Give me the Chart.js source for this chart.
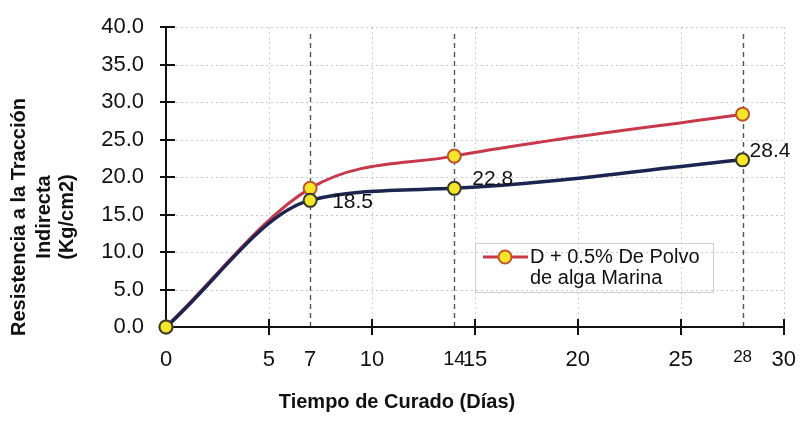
<!DOCTYPE html>
<html>
<head>
<meta charset="utf-8">
<script src="https://cdn.jsdelivr.net/npm/chart.js@4.4.1/dist/chart.umd.min.js"></script>
<style>
  html, body { margin: 0; padding: 0; background: #fff; }
  #wrap { width: 808px; height: 423px; }
</style>
</head>
<body>
<div id="wrap"><canvas id="chart" width="808" height="423"></canvas></div>
<script>
// Curing age (days) and indirect tensile strength (kg/cm2)
const curingDays = [0, 7, 14, 28];
const strengthAlga = [0, 18.5, 22.8, 28.4];   // D + 0.5% seaweed powder
const strengthBase = [0, 16.9, 18.5, 22.3];   // reference mix D

const xTickValues = [0, 5, 7, 10, 14, 15, 20, 25, 28, 30];
const yTickValues = [0, 5, 10, 15, 20, 25, 30, 35, 40];
const markedDays = [7, 14, 28];

const legendLines = ['D + 0.5% De Polvo', 'de alga Marina'];
const yTitleLines = ['Resistencia a la Tracción', 'Indirecta', '(Kg/cm2)'];
const xTitle = 'Tiempo de Curado (Días)';

const FONT = '"Liberation Sans", Arial, sans-serif';
const RED = '#c7384b';
const NAVY = '#1c2450';
const YELLOW = '#f4e629';

const toPoints = ys => curingDays.map((d, i) => ({ x: d, y: ys[i] }));

function line(ctx, x1, y1, x2, y2) {
  ctx.beginPath(); ctx.moveTo(x1, y1); ctx.lineTo(x2, y2); ctx.stroke();
}

function marker(ctx, x, y, border) {
  ctx.beginPath();
  ctx.arc(x, y, 6.5, 0, Math.PI * 2);
  ctx.fillStyle = YELLOW; ctx.fill();
  ctx.lineWidth = 2; ctx.strokeStyle = border; ctx.stroke();
}

const framePlugin = {
  id: 'frame',
  beforeDatasetsDraw(chart) {
    const { ctx, chartArea: a, scales: { x, y } } = chart;
    ctx.save();
    // faint dotted grid
    ctx.strokeStyle = 'rgba(140,140,140,0.45)';
    ctx.lineWidth = 1;
    ctx.setLineDash([2, 3]);
    yTickValues.filter(v => v > 0).forEach(v => {
      const py = Math.round(y.getPixelForValue(v)) + 0.5;
      line(ctx, a.left, py, a.right, py);
    });
    for (let v = 5; v <= 30; v += 5) {
      const px = Math.round(x.getPixelForValue(v)) + 0.5;
      line(ctx, px, a.top, px, a.bottom);
    }
    // dashed guides at the test ages
    ctx.strokeStyle = '#555';
    ctx.lineWidth = 1.4;
    ctx.setLineDash([5, 4]);
    markedDays.forEach(d => {
      const px = Math.round(x.getPixelForValue(d)) + 0.5;
      line(ctx, px, a.bottom, px, a.top + 6);
    });
    // axes and crossing tick marks
    ctx.setLineDash([]);
    ctx.strokeStyle = '#111';
    ctx.lineWidth = 2;
    line(ctx, a.left, a.top, a.left, a.bottom);
    line(ctx, a.left, a.bottom, a.right, a.bottom);
    yTickValues.filter(v => v > 0).forEach(v => {
      const py = Math.round(y.getPixelForValue(v));
      line(ctx, a.left - 6, py, a.left + 9, py);
    });
    for (let v = 5; v <= 30; v += 5) {
      const px = Math.round(x.getPixelForValue(v));
      line(ctx, px, a.bottom - 8, px, a.bottom + 8);
    }
    ctx.restore();
  },
  afterDatasetsDraw(chart) {
    const { ctx } = chart;
    ctx.save();
    // value labels beside the points
    const basePts = chart.getDatasetMeta(0).data;
    const offsets = [null, [22, 2], [18, -9], [7, -9]];
    ctx.font = '21px ' + FONT;
    ctx.fillStyle = '#111';
    ctx.textAlign = 'left';
    ctx.textBaseline = 'middle';
    for (let i = 1; i < strengthAlga.length; i++) {
      const p = basePts[i];
      ctx.fillText(strengthAlga[i].toFixed(1), p.x + offsets[i][0], p.y + offsets[i][1]);
    }
    // legend
    ctx.strokeStyle = '#cfcfcf';
    ctx.lineWidth = 1;
    ctx.strokeRect(475.5, 243.5, 238, 49);
    ctx.strokeStyle = RED;
    ctx.lineWidth = 3;
    line(ctx, 483, 257, 528, 257);
    marker(ctx, 505, 257, '#c0552d');
    ctx.font = '20px ' + FONT;
    ctx.fillStyle = '#111';
    ctx.fillText(legendLines[0], 530, 257);
    ctx.fillText(legendLines[1], 530, 278);
    // axis titles
    ctx.font = 'bold 20px ' + FONT;
    ctx.textAlign = 'center';
    ctx.fillText(xTitle, 397, 402);
    const titleX = [19, 44, 67];
    yTitleLines.forEach((t, i) => {
      ctx.save();
      ctx.translate(titleX[i], 217);
      ctx.rotate(-Math.PI / 2);
      ctx.fillText(t, 0, 0);
      ctx.restore();
    });
    ctx.restore();
  }
};

new Chart(document.getElementById('chart'), {
  type: 'line',
  data: {
    datasets: [
      {
        label: 'D',
        data: toPoints(strengthBase),
        borderColor: NAVY,
        borderWidth: 3.5,
        cubicInterpolationMode: 'monotone',
        clip: false,
        pointRadius: 6.5,
        pointBackgroundColor: YELLOW,
        pointBorderColor: '#3a3a2a',
        pointBorderWidth: 2
      },
      {
        label: legendLines.join(' '),
        data: toPoints(strengthAlga),
        borderColor: RED,
        borderWidth: 3,
        cubicInterpolationMode: 'monotone',
        clip: false,
        pointRadius: 6.5,
        pointBackgroundColor: YELLOW,
        pointBorderColor: '#c0552d',
        pointBorderWidth: 2
      }
    ]
  },
  options: {
    responsive: false,
    animation: false,
    devicePixelRatio: 1,
    layout: { padding: { top: 22, right: 22, left: 0, bottom: 0 } },
    plugins: { legend: { display: false }, tooltip: { enabled: false } },
    scales: {
      x: {
        type: 'linear',
        min: 0,
        max: 30,
        afterBuildTicks: s => { s.ticks = xTickValues.map(v => ({ value: v })); },
        afterFit: s => { s.height = 96; },
        grid: { display: false },
        border: { display: false },
        ticks: {
          autoSkip: false,
          maxRotation: 0,
          padding: 12,
          color: '#111',
          callback: v => String(v),
          font: c => ({
            family: FONT,
            size: c.tick && c.tick.value === 28 ? 17 : (c.tick && c.tick.value === 14 ? 20 : 22)
          })
        }
      },
      y: {
        type: 'linear',
        min: 0,
        max: 40,
        afterBuildTicks: s => { s.ticks = yTickValues.map(v => ({ value: v })); },
        afterFit: s => { s.width = 166; },
        grid: { display: false },
        border: { display: false },
        ticks: {
          padding: 14,
          color: '#111',
          callback: v => v.toFixed(1),
          font: { family: FONT, size: 22 }
        }
      }
    }
  },
  plugins: [framePlugin]
});
</script>
</body>
</html>
